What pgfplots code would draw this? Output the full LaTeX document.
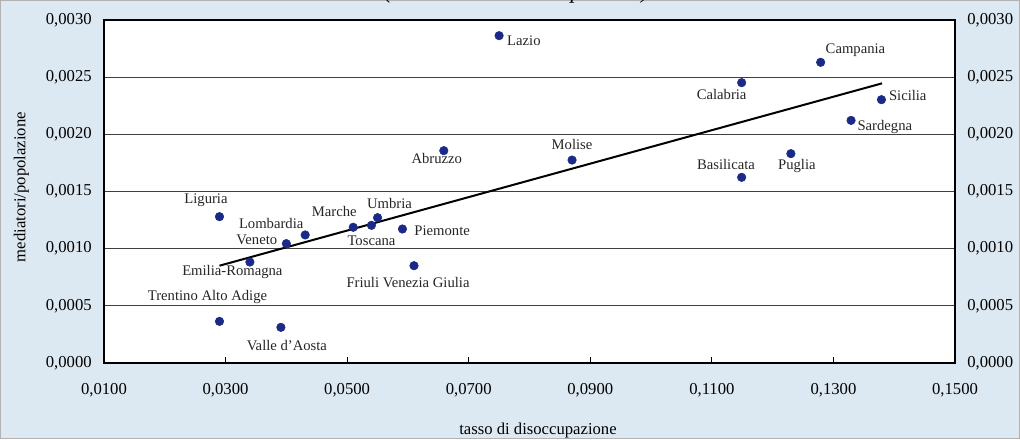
\documentclass[border=0pt]{standalone}
\usepackage{fontspec}
\setmainfont{Liberation Serif}
\usepackage{pgfplots}
\usepackage{pgfplotstable}
\pgfplotsset{compat=1.18}

\definecolor{bgblue}{RGB}{221,233,242}
\definecolor{dotblue}{RGB}{28,42,135}

% regioni: tasso di disoccupazione, mediatori/popolazione, spostamento etichetta (px)
\pgfplotstableread[col sep=comma]{
x,y,dx,dy,name
0.0750,0.002863,24.8,-5,Lazio
0.1149,0.002452,-20,-11.6,Calabria
0.1279,0.002630,34.8,12.3,Campania
0.1379,0.002303,26.3,4,Sicilia
0.1329,0.002122,33.8,-6.4,Sardegna
0.0659,0.001857,-7,-7.6,Abruzzo
0.0870,0.001775,0,15.7,Molise
0.1149,0.001624,-15.7,12.6,Basilicata
0.1230,0.001831,6,-12.3,Puglia
0.0290,0.001280,-13.5,16.7,Liguria
0.0431,0.001120,-34,11.7,Lombardia
0.0400,0.001044,-29.5,3.7,Veneto
0.0510,0.001187,-19,15.7,Marche
0.0550,0.001271,12,14.3,Umbria
0.0540,0.001204,0,-15.7,Toscana
0.0591,0.001172,39.7,-1.7,Piemonte
0.0340,0.000883,-17.5,-9.7,Emilia-Romagna
0.0610,0.000851,-6,-16.6,Friuli Venezia Giulia
0.0290,0.000364,-12,24,Trentino Alto Adige
0.0391,0.000312,6,-18,Valle d'Aosta
}\regioni

\pgfplotsset{
  base/.style={
    at={(78pt,57pt)}, anchor=south west,
    width=638.25pt, height=257.25pt, scale only axis,
    xmin=0.01, xmax=0.15, ymin=0, ymax=0.003,
    scaled ticks=false,
    ytick={0,0.0005,0.001,0.0015,0.002,0.0025,0.003},
    /pgf/number format/.cd, fixed, fixed zerofill, precision=4, use comma,
      assume math mode=true,
    /pgfplots/.cd,
    tick label style={font=\fontsize{12.5}{14}\selectfont, inner sep=0pt},
    ytick style={draw=none},
  },
}

\begin{document}
\begin{tikzpicture}
\useasboundingbox (0,0) rectangle (765pt,329.25pt);
\fill[bgblue] (0,0) rectangle (765pt,329.25pt);
\draw[gray!60, line width=0.5pt] (0.25pt,0.25pt) rectangle (764.75pt,329pt);
\node[anchor=base, font=\fontsize{17}{20}\selectfont\itshape] at (387.4pt,330pt)
  {(mediatori e disoccupazione)};

\begin{axis}[base,
    axis background/.style={fill=white},
    axis line style={black, line width=1.1pt},
    xtick={0.01,0.03,0.05,0.07,0.09,0.11,0.13,0.15},
    xtick pos=bottom, tick align=inside,
    xtick style={black, line width=0.7pt},
    major tick length=4.5pt,
    xticklabel style={yshift=-14.8pt},
    yticklabel style={xshift=-9pt},
    ymajorgrids=true,
    grid style={black!75, line width=0.6pt},
    xlabel={tasso di disoccupazione},
    ylabel={mediatori/popolazione},
    xlabel style={at={(rel axis cs:0.51,-0.1975)}, anchor=center,
      font=\fontsize{12.5}{14}\selectfont},
    ylabel style={at={(rel axis cs:-0.097,0.513)}, anchor=center,
      font=\fontsize{12.5}{14}\selectfont},
    clip=false,
]
\addplot[only marks, mark=*, mark size=3.2pt, color=dotblue,
    nodes near coords, point meta=explicit symbolic,
    visualization depends on={\thisrow{dx} \as \dx},
    visualization depends on={\thisrow{dy} \as \dy},
    nodes near coords style={anchor=center, inner sep=0pt, text=black!85,
      font=\fontsize{11}{13}\selectfont,
      xshift={\dx*0.75pt}, yshift={\dy*0.75pt}},
  ] table[x=x, y=y, meta=name] {\regioni};

% retta di regressione
\addplot[black, line width=1.5pt, no marks] coordinates {(0.029,0.000851) (0.138,0.002446)};
\end{axis}

\begin{axis}[base,
    hide x axis,
    axis y line*=right,
    axis line style={black, line width=1.1pt},
    yticklabel pos=right,
    yticklabel style={anchor=west, xshift=9pt},
]
\addplot[draw=none] coordinates {(0.01,0) (0.15,0.003)};
\end{axis}
\end{tikzpicture}
\end{document}
